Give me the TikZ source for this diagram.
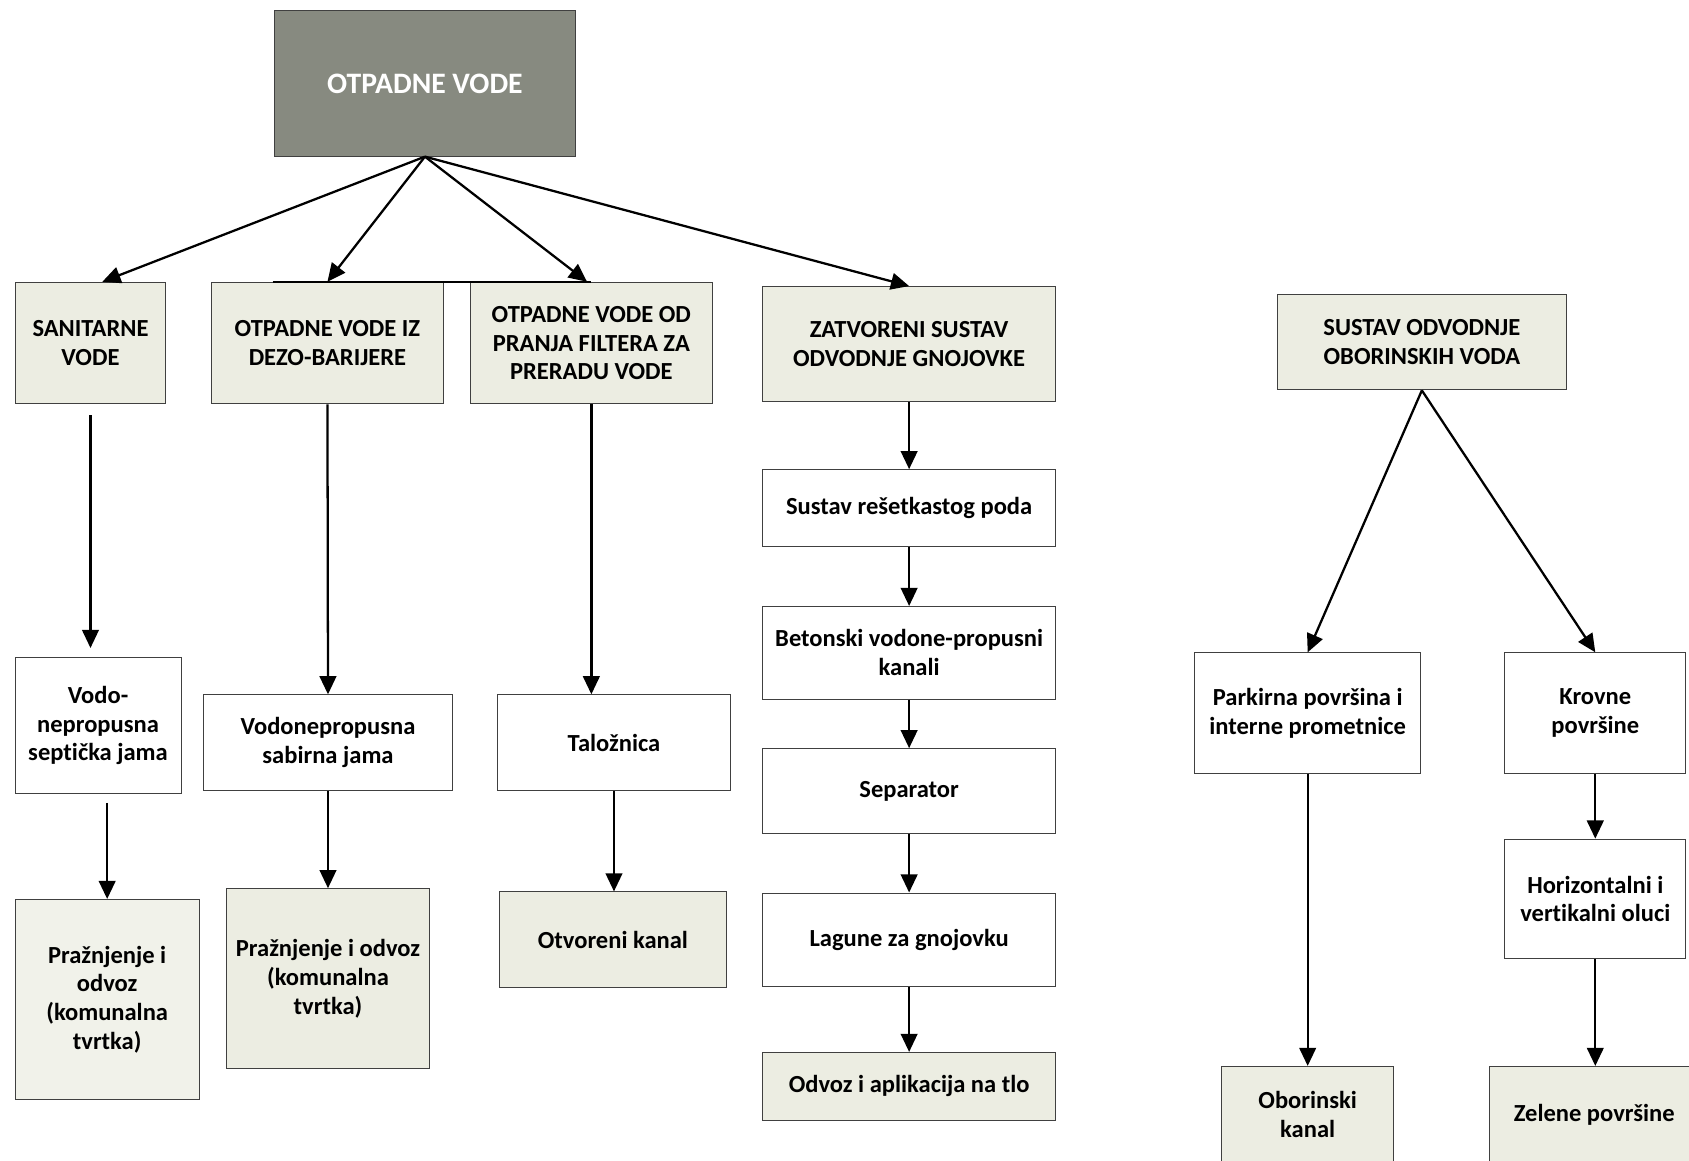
\documentclass[tikz,border=0pt]{standalone}
\usepackage{fontspec}
\setmainfont{Carlito}[Ligatures=NoCommon]
\usepackage{tikz}
\usetikzlibrary{arrows.meta,calc}
\definecolor{slate}{HTML}{878A80}
\definecolor{sage}{HTML}{ECEDE2}
\definecolor{sagelt}{HTML}{F1F2EA}
\definecolor{rim}{HTML}{404040}
\tikzset{
  basebox/.style 2 args={
    rectangle, draw=rim, line width=0.6pt,
    minimum width=#1*0.025cm, minimum height=#2*0.025cm,
    inner sep=0pt, align=center,
    font=\fontsize{16.2}{19}\selectfont\bfseries
  },
  whitebox/.style 2 args={basebox={#1}{#2}, fill=white},
  tintbox/.style 2 args={basebox={#1}{#2}, fill=sage},
  headbox/.style 2 args={
    basebox={#1}{#2}, fill=slate, text=white,
    font=\fontsize{19.6}{23}\selectfont\bfseries
  },
  flow/.style={
    -{Triangle[length=12pt,width=11pt]}, line width=1.5pt
  },
}

\begin{document}
\begin{tikzpicture}[x=0.025cm, y=-0.025cm]
  \useasboundingbox (0,0) rectangle (1568,1077);

  \node[headbox={279}{135}] (waste) at (394.5,77.5) {OTPADNE VODE};

  \node[tintbox={140}{113}] (sanit) at (84,318.5) {SANITARNE\\VODE};
  \node[tintbox={216}{113}] (dezo) at (304,318.5) {OTPADNE VODE IZ\\DEZO-BARIJERE};
  \node[tintbox={224}{113}] (filter) at (549,318.5) {OTPADNE VODE OD\\PRANJA FILTERA ZA\\PRERADU VODE};
  \node[tintbox={272}{107}] (slurry) at (844,319.5) {ZATVORENI SUSTAV\\ODVODNJE GNOJOVKE};
  \node[tintbox={268}{89}] (storm) at (1320,317.5) {SUSTAV ODVODNJE\\OBORINSKIH VODA};

  \node[whitebox={154}{127}] (septic) at (91,673.5) {Vodo-\\nepropusna\\septička jama};
  \node[whitebox={231}{89}] (sump) at (304.5,689.5) {Vodonepropusna\\sabirna jama};
  \node[whitebox={216}{89}] (settler) at (570,689.5) {Taložnica};

  \node[basebox={171}{186}, fill=sagelt] (empty1) at (99.5,928) {Pražnjenje i\\odvoz\\(komunalna\\tvrtka)};
  \node[tintbox={189}{167}] (empty2) at (304.5,908.5) {Pražnjenje i odvoz\\(komunalna\\tvrtka)};
  \node[tintbox={210}{89}] (opench) at (569,872.5) {Otvoreni kanal};

  \node[whitebox={272}{71}] (grate) at (844,471.5) {Sustav rešetkastog poda};
  \node[whitebox={272}{86}] (concr) at (844,606) {Betonski vodone-propusni\\kanali};
  \node[whitebox={272}{79}] (separ) at (844,734.5) {Separator};
  \node[whitebox={272}{87}] (lagoon) at (844,872.5) {Lagune za gnojovku};
  \node[tintbox={272}{63}] (apply) at (844,1008.5) {Odvoz i aplikacija na tlo};

  \node[whitebox={210}{112}] (park) at (1214,662) {Parkirna površina i\\interne prometnice};
  \node[whitebox={168}{112}] (roof) at (1481,662) {Krovne\\površine};
  \node[whitebox={168}{111}] (gutter) at (1481,834.5) {Horizontalni i\\vertikalni oluci};
  \node[tintbox={160}{89}] (stormch) at (1214,1034.5) {Oborinski\\kanal};
  \node[tintbox={194}{89}] (green) at (1480,1034.5) {Zelene površine};

  \draw[line width=1.2pt] ($(dezo.north)+(-51,0)$) -- (filter.north);

  \draw[flow] (waste.south) -- ($(sanit.north)+(11,0)$);
  \draw[flow] (waste.south) -- (dezo.north);
  \draw[flow] (waste.south) -- ($(filter.north)+(-4,0)$);
  \draw[flow] (waste.south) -- (slurry.north);

  \draw[flow, shorten <=0.25cm, shorten >=0.2cm] (sanit.south) -- (sanit.south |- septic.north);
  \draw[flow, shorten <=0.2cm] (empty1.north |- septic.south) -- (empty1.north);
  \draw[flow] (dezo.south) -- (sump.north);
  \draw[flow] (sump.south) -- (empty2.north);
  \draw[flow] (filter.south) -- (filter.south |- settler.north);
  \draw[flow] (settler.south) -- (settler.south |- opench.north);

  \draw[flow] (slurry.south) -- (grate.north);
  \draw[flow] (grate.south) -- (concr.north);
  \draw[flow] (concr.south) -- (separ.north);
  \draw[flow] (separ.south) -- (lagoon.north);
  \draw[flow] (lagoon.south) -- (apply.north);

  \draw[flow] (storm.south) -- (park.north);
  \draw[flow] (storm.south) -- (roof.north);
  \draw[flow] (park.south) -- (stormch.north);
  \draw[flow] (roof.south) -- (gutter.north);
  \draw[flow] (gutter.south) -- (gutter.south |- green.north);
\end{tikzpicture}
\end{document}
